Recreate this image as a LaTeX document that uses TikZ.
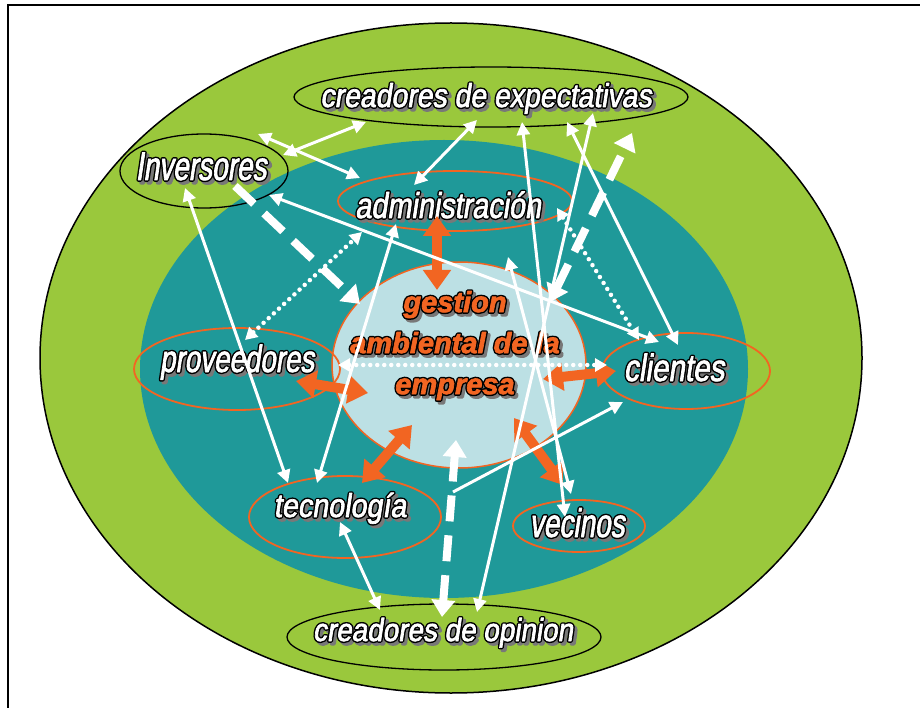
\documentclass[tikz,border=0pt]{standalone}
\usepackage{fontspec}
\usepackage{xcolor}
\usetikzlibrary{shapes.geometric}
\usetikzlibrary{arrows.meta}
\definecolor{outergreen}{RGB}{154,200,60}
\definecolor{innerteal}{RGB}{31,153,153}
\definecolor{corefill}{RGB}{188,224,228}
\definecolor{rimorange}{RGB}{242,101,34}
\definecolor{rimshadow}{RGB}{120,120,120}
\newfontfamily\lblfont[FakeSlant=0.15]{Liberation Sans}
\newfontfamily\corefont{Liberation Sans}

%outlined text with a grey shadow (pdf text render mode)
\newcommand\rimpaint[3]{\special{x:gsave}\special{pdf:literal direct 1 j 2 Tr #1 w}#3\special{x:grestore}}
\newcommand\rimoff[3]{\makebox[0pt][l]{\hspace*{#1}\raisebox{#2}{#3}}}
\newcommand\rimtext[2]{%
  \rimoff{2.8pt}{-2.8pt}{\color{rimshadow}\rimpaint{3.6}{}{#2}}%
  \rimoff{0pt}{0pt}{\color{black}\rimpaint{3.6}{}{#2}}%
  {\color{#1}\rimpaint{0.7}{}{#2}}}
\newcommand\lblsize[2]{\lblfont\addfontfeature{FakeStretch=#2}\fontsize{#1}{#1}\selectfont}

\begin{document}
\begin{tikzpicture}[x=1pt,y=-1pt,
    ring/.style={ellipse, draw=black, line width=1.3pt, inner sep=0pt},
    stake/.style={ellipse, draw=rimorange, line width=1.8pt, inner sep=0pt},
    lbl/.style={anchor=base, inner sep=0pt},
    wdbl/.style={white, line width=3pt, {Triangle[length=13pt,width=13pt]}-{Triangle[length=13pt,width=13pt]}},
    wone/.style={white, line width=3pt, -{Triangle[length=13pt,width=13pt]}},
    wdot/.style={white, line width=4.5pt, line cap=round, dash pattern=on 0pt off 7pt, {Triangle[length=12pt,width=13pt]}-{Triangle[length=12pt,width=13pt]}},
    wdash/.style={white, line width=8pt, dash pattern=on 26pt off 14pt, -{Triangle[length=17pt,width=23pt]}},
    wdashdbl/.style={white, line width=8pt, dash pattern=on 26pt off 14pt, {Triangle[length=17pt,width=23pt]}-{Triangle[length=17pt,width=23pt]}},
    opush/.style={rimorange, line width=10pt, {Triangle[length=20pt,width=27pt]}-{Triangle[length=20pt,width=27pt]}}]
    \useasboundingbox (0,0) rectangle (920,708);

    %frame
    \draw[line width=1.2pt] (8,708) -- (8,5) -- (920,5);

    %rings
    \fill[outergreen] (451,358) ellipse [x radius=411, y radius=335];
    \draw[line width=1.5pt] (451,358) ellipse [x radius=411, y radius=335];
    \fill[innerteal] (444,369) ellipse [x radius=304, y radius=229];
    \node[ellipse, fill=corefill, draw=rimorange, line width=1.5pt, inner sep=0pt,
          minimum width=254, minimum height=206] (core) at (459,365) {};

    %stakeholders
    \node[ring, minimum width=394, minimum height=60] (cexp) at (491,97) {};
    \node[ring, minimum width=168, minimum height=74] (inv) at (204,171) {};
    \node[stake, minimum width=234, minimum height=60] (adm) at (455,201) {};
    \node[stake, minimum width=206, minimum height=82] (prov) at (237,369) {};
    \node[stake, minimum width=168, minimum height=76] (cli) at (686,371) {};
    \node[stake, minimum width=192, minimum height=82] (tec) at (345,517) {};
    \node[stake, minimum width=132, minimum height=52] (vec) at (579,526) {};
    \node[ring, minimum width=314, minimum height=66] (cop) at (444,637) {};

    %names
    \node[lbl, font={\lblsize{33}{0.86}}] (cexp-txt) at (486,107) {\rimtext{white}{creadores de expectativas}};
    \node[lbl, font={\lblsize{40}{0.70}}] (inv-txt) at (201,180) {\rimtext{white}{Inversores}};
    \node[lbl, font={\lblsize{36}{0.80}}] (adm-txt) at (448,218) {\rimtext{white}{administración}};
    \node[lbl, font={\lblsize{38}{0.73}}] (prov-txt) at (237,372) {\rimtext{white}{proveedores}};
    \node[lbl, font={\lblsize{38}{0.78}}] (cli-txt) at (674,381) {\rimtext{white}{clientes}};
    \node[lbl, font={\lblsize{33}{0.87}}] (tec-txt) at (340,517) {\rimtext{white}{tecnología}};
    \node[lbl, font={\lblsize{40}{0.70}}] (vec-txt) at (577,537) {\rimtext{white}{vecinos}};
    \node[lbl, font={\lblsize{32}{0.87}}] (cop-txt) at (443,641) {\rimtext{white}{creadores de opinion}};
    \node[align=center, inner sep=0pt, font={\corefont\bfseries\itshape\fontsize{29}{41}\selectfont}] (core-txt) at (455,347)
        {\rimtext{rimorange}{gestion}\\\rimtext{rimorange}{ambiental de la}\\\rimtext{rimorange}{empresa}};

    %arrow ends
    \coordinate (inv-cexp) at (283,155); \coordinate (cexp-inv) at (366,122);
    \coordinate (inv-adm) at (258,134);  \coordinate (adm-inv) at (360,178);
    \coordinate (cexp-adm) at (477,120); \coordinate (adm-cexp) at (414,185);
    \coordinate (inv-cli) at (269,195);  \coordinate (cli-inv) at (659,342);
    \coordinate (inv-tec) at (185,188);  \coordinate (tec-inv) at (288,483);
    \coordinate (tec-adm) at (317,483);  \coordinate (adm-tec) at (396,224);
    \coordinate (cexp-vec) at (522,122); \coordinate (vec-cexp) at (565,517);
    \coordinate (cexp-cop) at (593,113); \coordinate (cop-cexp) at (477,612);
    \coordinate (cexp-cli) at (567,122); \coordinate (cli-cexp) at (678,345);
    \coordinate (core-vec) at (508,257); \coordinate (vec-core) at (571,494);
    \coordinate (tec-cop) at (340,522);  \coordinate (cop-tec) at (380,610);
    \coordinate (tec-cli) at (453,492);  \coordinate (cli-tec) at (623,402);
    \coordinate (prov-adm) at (245,340); \coordinate (adm-prov) at (362,232);
    \coordinate (adm-cli) at (557,208);  \coordinate (cli-adm) at (639,340);
    \coordinate (prov-cli) at (338,365); \coordinate (cli-prov) at (607,365);
    \coordinate (inv-core) at (235,186); \coordinate (core-inv) at (360,304);
    \coordinate (core-cexp) at (550,302); \coordinate (cexp-core) at (632,133);
    \coordinate (cop-core) at (442,617); \coordinate (core-cop) at (456,440);
    \coordinate (adm-g) at (437,216);    \coordinate (g-adm) at (437,290);
    \coordinate (prov-g) at (296,381);   \coordinate (g-prov) at (368,393);
    \coordinate (g-cli) at (543,379);    \coordinate (cli-g) at (616,371);
    \coordinate (tec-g) at (362,483);    \coordinate (g-tec) at (412,425);
    \coordinate (g-vec) at (514,418);    \coordinate (vec-g) at (563,485);

    %pushes into the core
    \foreach \a/\b in {adm-g/g-adm, prov-g/g-prov, g-cli/cli-g, tec-g/g-tec, g-vec/vec-g}
    \draw[opush] (\a) -- (\b);

    %relations
    \foreach \a/\b in {inv-cexp/cexp-inv, inv-adm/adm-inv, cexp-adm/adm-cexp, inv-cli/cli-inv,
                       inv-tec/tec-inv, tec-adm/adm-tec, cexp-vec/vec-cexp, cexp-cop/cop-cexp,
                       cexp-cli/cli-cexp, core-vec/vec-core, tec-cop/cop-tec}
    \draw[wdbl] (\a) -- (\b);
    \draw[wone] (tec-cli) -- (cli-tec);
    \foreach \a/\b in {prov-adm/adm-prov, adm-cli/cli-adm, prov-cli/cli-prov}
    \draw[wdot] (\a) -- (\b);
    \draw[wdash] (inv-core) -- (core-inv);
    \draw[wdashdbl] (core-cexp) -- (cexp-core);
    \draw[wdashdbl] (cop-core) -- (core-cop);
\end{tikzpicture}
\end{document}
